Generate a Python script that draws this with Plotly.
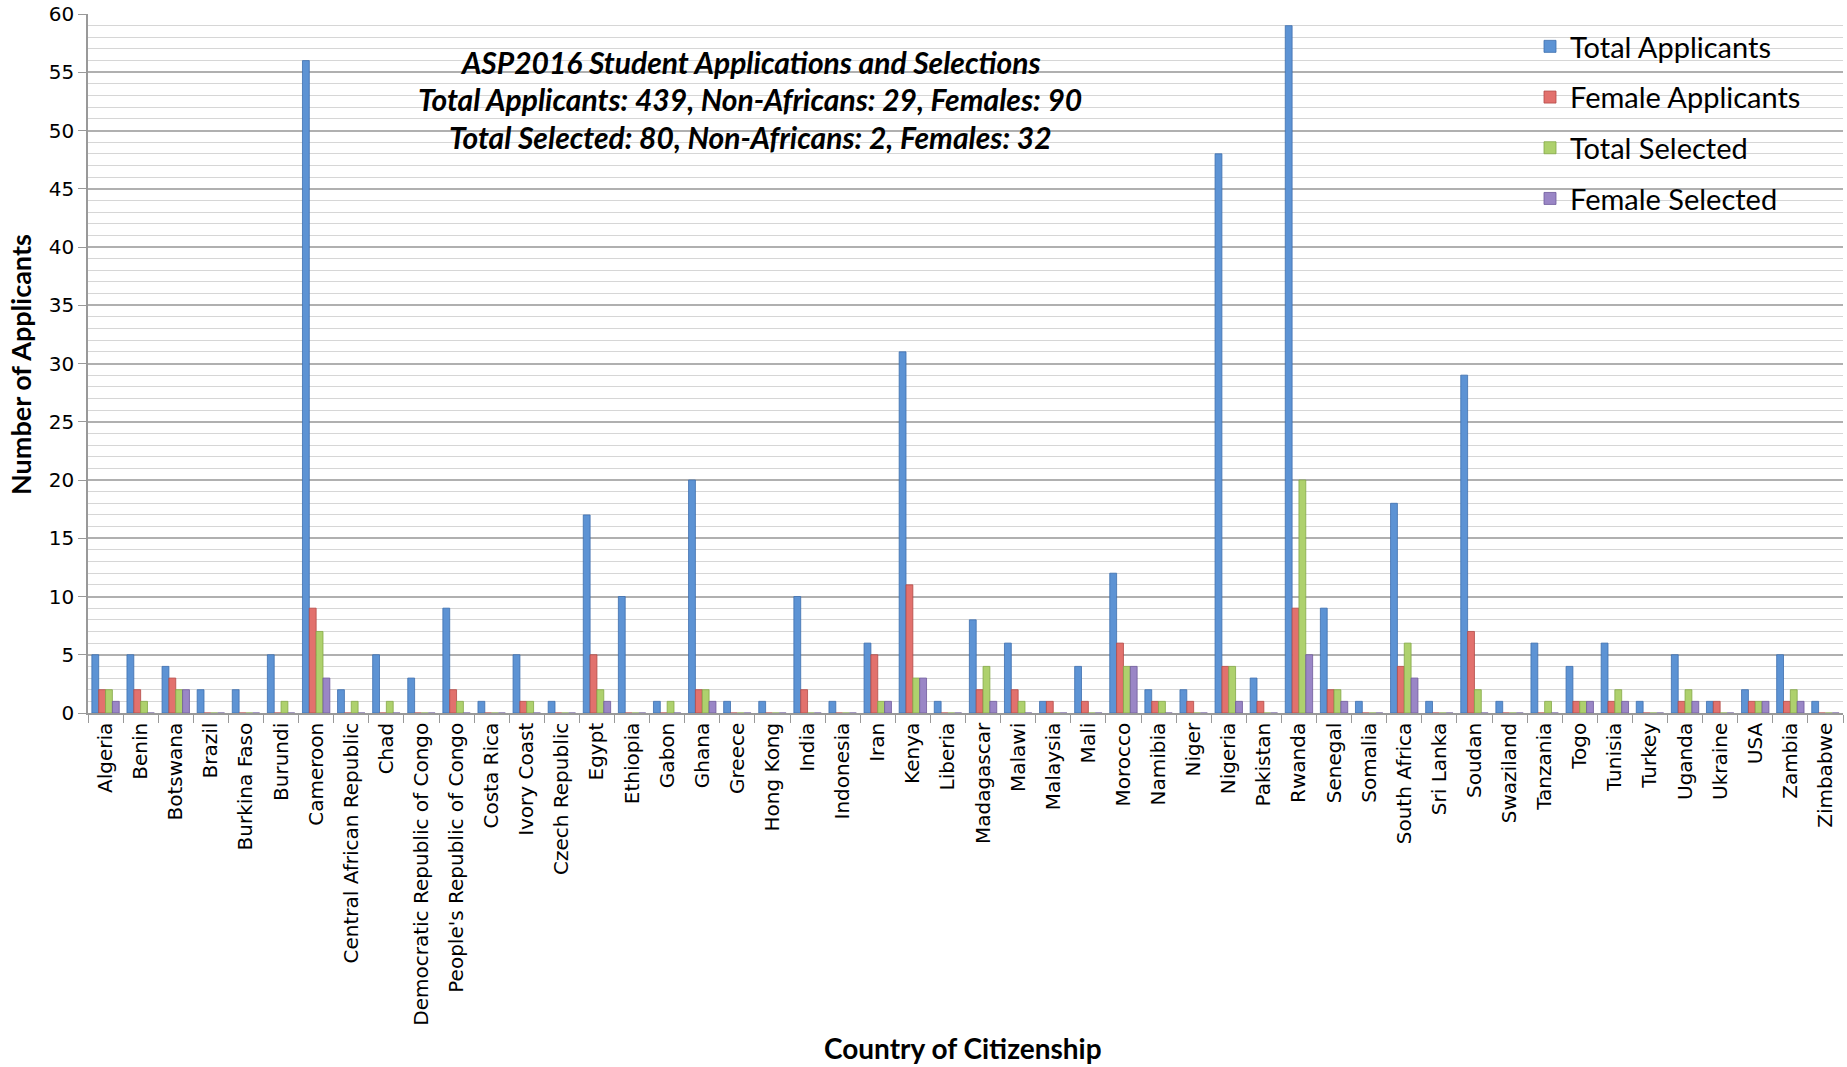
import plotly.graph_objects as go

countries = ["Algeria", "Benin", "Botswana", "Brazil", "Burkina Faso", "Burundi", "Cameroon",
             "Central African Republic", "Chad", "Democratic Republic of Congo",
             "People's Republic of Congo", "Costa Rica", "Ivory Coast", "Czech Republic", "Egypt",
             "Ethiopia", "Gabon", "Ghana", "Greece", "Hong Kong", "India", "Indonesia", "Iran",
             "Kenya", "Liberia", "Madagascar", "Malawi", "Malaysia", "Mali", "Morocco", "Namibia",
             "Niger", "Nigeria", "Pakistan", "Rwanda", "Senegal", "Somalia", "South Africa",
             "Sri Lanka", "Soudan", "Swaziland", "Tanzania", "Togo", "Tunisia", "Turkey", "Uganda",
             "Ukraine", "USA", "Zambia", "Zimbabwe"]

total_applicants = [5, 5, 4, 2, 2, 5, 56, 2, 5, 3, 9, 1, 5, 1, 17, 10, 1, 20, 1, 1, 10, 1, 6,
                    31, 1, 8, 6, 1, 4, 12, 2, 2, 48, 3, 59, 9, 1, 18, 1, 29, 1, 6, 4, 6, 1, 5,
                    1, 2, 5, 1]
female_applicants = [2, 2, 3, 0, 0, 0, 9, 0, 0, 0, 2, 0, 1, 0, 5, 0, 0, 2, 0, 0, 2, 0, 5,
                     11, 0, 2, 2, 1, 1, 6, 1, 1, 4, 1, 9, 2, 0, 4, 0, 7, 0, 0, 1, 1, 0, 1,
                     1, 1, 1, 0]
total_selected = [2, 1, 2, 0, 0, 1, 7, 1, 1, 0, 1, 0, 1, 0, 2, 0, 1, 2, 0, 0, 0, 0, 1,
                  3, 0, 4, 1, 0, 0, 4, 1, 0, 4, 0, 20, 2, 0, 6, 0, 2, 0, 1, 1, 2, 0, 2,
                  0, 1, 2, 0]
female_selected = [1, 0, 2, 0, 0, 0, 3, 0, 0, 0, 0, 0, 0, 0, 1, 0, 0, 1, 0, 0, 0, 0, 1,
                   3, 0, 1, 0, 0, 0, 4, 0, 0, 1, 0, 5, 1, 0, 3, 0, 0, 0, 0, 1, 1, 0, 1,
                   0, 1, 1, 0]

series = [
    ("Total Applicants", total_applicants, "#5d93d4", "#3d6fae"),
    ("Female Applicants", female_applicants, "#e2716d", "#b44a46"),
    ("Total Selected", total_selected, "#aed16d", "#84a848"),
    ("Female Selected", female_selected, "#9a86c6", "#6e5a9c"),
]

title_lines = ["ASP2016 Student Applications and Selections",
               "Total Applicants: 439, Non-Africans: 29, Females: 90",
               "Total Selected: 80, Non-Africans: 2, Females: 32"]

fig = go.Figure()
for i, (name, vals, col, line) in enumerate(series):
    fig.add_trace(go.Bar(
        x=countries, y=vals, name=name, legendgroup=name,
        marker=dict(color=col, line=dict(color=line, width=0.8)),
    ))

PL, PR, PT, PB = 88, 1843, 14, 713
W, H = 1847, 1067

fig.update_layout(
    width=W, height=H,
    margin=dict(l=PL, r=W - PR, t=PT, b=H - PB, autoexpand=False),
    paper_bgcolor="white", plot_bgcolor="white",
    barmode="group", bargap=0.22, bargroupgap=0,
    font=dict(family="DejaVu Sans", color="black"),
    showlegend=True,
    legend=dict(x=(1530 - PL) / (PR - PL), y=(PB - 21) / (PB - PT), xanchor="left", yanchor="top",
                bgcolor="rgba(0,0,0,0)", font=dict(family="Lato", size=29, color="black"),
                tracegroupgap=10, itemwidth=30),
    xaxis=dict(
        type="category", range=[-0.5, len(countries) - 0.5],
        tickangle=-90, tickfont=dict(family="DejaVu Sans", size=20, color="black"),
        ticks="outside", tickson="boundaries", ticklen=8, tickcolor="#999999",
        showline=True, linecolor="#999999", linewidth=1.5, showgrid=False,
    ),
    yaxis=dict(
        range=[0, 60], dtick=5, tick0=0,
        tickfont=dict(family="DejaVu Sans", size=20, color="black"),
        ticks="outside", ticklen=8, tickcolor="#999999",
        showline=True, linecolor="#999999", linewidth=1.5,
        showgrid=True, gridcolor="#b0b0b0", gridwidth=1.5,
        minor=dict(dtick=1, tick0=0, showgrid=True, gridcolor="#d6d6d6", gridwidth=1.3),
        zeroline=False,
    ),
)

title_y = [62, 99, 137]
for txt, yy in zip(title_lines, title_y):
    fig.add_annotation(
        text="<b><i>" + txt + "</i></b>", xref="paper", yref="paper",
        x=(750 - PL) / (PR - PL), y=(PB - yy) / (PB - PT), xanchor="center", yanchor="middle",
        showarrow=False, font=dict(family="Lato", size=30, color="black"),
    )

fig.add_annotation(text="<b>Country of Citizenship</b>", xref="paper", yref="paper",
                   x=(963 - PL) / (PR - PL), y=(PB - 1048) / (PB - PT),
                   xanchor="center", yanchor="middle", showarrow=False,
                   font=dict(family="Lato", size=28, color="black"))
fig.add_annotation(text="<b>Number of Applicants</b>", xref="paper", yref="paper",
                   x=(21 - PL) / (PR - PL), y=(PB - 365) / (PB - PT), textangle=-90,
                   xanchor="center", yanchor="middle", showarrow=False,
                   font=dict(family="Lato", size=27, color="black"))

fig.write_html("out.html", config={"displayModeBar": False},
               post_script="document.body.style.margin='0';document.body.style.overflow='hidden';")
